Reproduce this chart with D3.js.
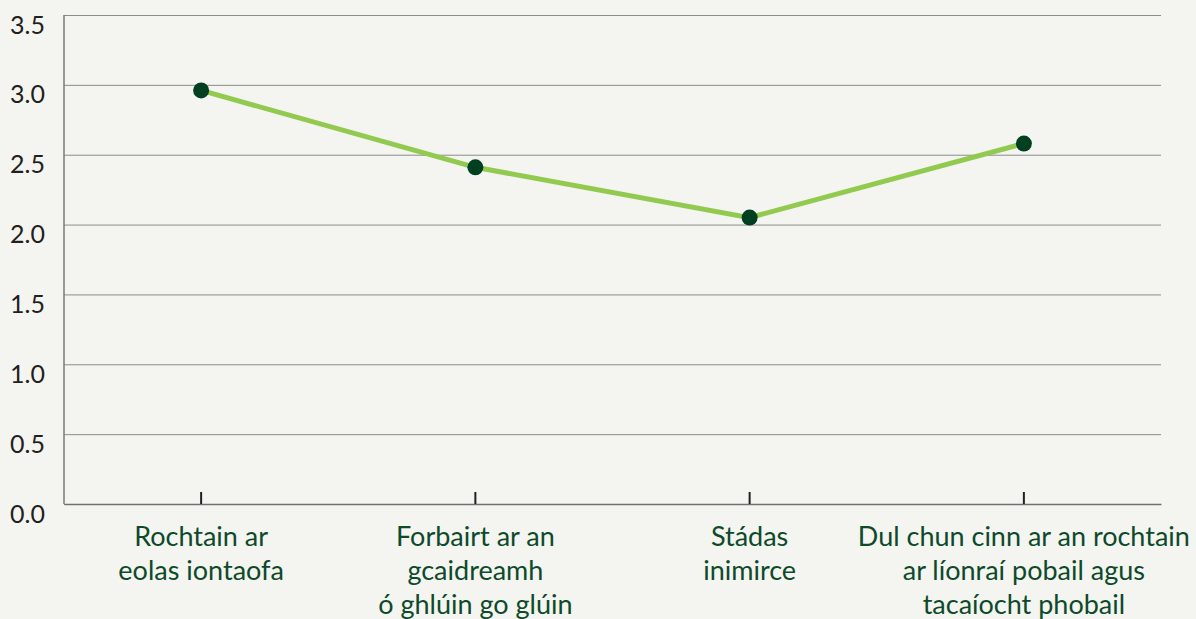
<!DOCTYPE html>
<html>
<head>
<meta charset="utf-8">
<script src="https://cdn.jsdelivr.net/npm/d3@7"></script>
<style>
  body { margin: 0; background: #f4f4f0; }
  svg { display: block; }
</style>
</head>
<body>
<div id="chart"></div>
<script>
// chart data
const categories = [
    ["Rochtain ar", "eolas iontaofa"],
    ["Forbairt ar an", "gcaidreamh", "ó ghlúin go glúin"],
    ["Stádas", "inimirce"],
    ["Dul chun cinn ar an rochtain", "ar líonraí pobail agus", "tacaíocht phobail"]
];
const values = [2.96, 2.41, 2.05, 2.58];
const yTicks = [0, 0.5, 1.0, 1.5, 2.0, 2.5, 3.0, 3.5];

const width = 1196, height = 619;
const margin = { top: 15, right: 35, bottom: 115, left: 64 };
const fontFamily = "Lato, 'Open Sans', sans-serif";

const svg = d3.select("#chart").append("svg")
    .attr("width", width)
    .attr("height", height)
    .style("background", "#f4f4f0")
    .style("font-family", fontFamily);

const x = d3.scaleBand()
    .domain(categories.map((_, i) => i))
    .range([margin.left, width - margin.right]);

const y = d3.scaleLinear()
    .domain([0, 3.5])
    .range([height - margin.bottom, margin.top]);

// gridlines + y labels
const yAxis = svg.append("g")
    .attr("transform", `translate(${margin.left},0)`)
    .call(d3.axisLeft(y)
        .tickValues(yTicks)
        .tickFormat(d3.format(".1f"))
        .tickSize(-(width - margin.left - margin.right))
        .tickPadding(19));
yAxis.attr("font-family", fontFamily);
yAxis.select(".domain").remove();
yAxis.selectAll(".tick line")
    .attr("stroke", "#8c8c8c")
    .attr("stroke-width", 1);
yAxis.selectAll(".tick text")
    .attr("fill", "#231f20")
    .style("font-size", "25px")
    .attr("dy", "0.72em");

// left axis line
svg.append("line")
    .attr("x1", margin.left).attr("x2", margin.left)
    .attr("y1", y(3.5)).attr("y2", y(0))
    .attr("stroke", "#7a7a7a")
    .attr("stroke-width", 1.5);

// bottom axis
const xAxis = svg.append("g")
    .attr("transform", `translate(0,${y(0)})`)
    .call(d3.axisBottom(x).tickSize(0).tickFormat(""));
xAxis.select(".domain")
    .attr("stroke", "#707070")
    .attr("stroke-width", 1.5);

// small tick marks pointing up
svg.append("g")
    .selectAll("line")
    .data(categories)
    .join("line")
    .attr("x1", (d, i) => x(i) + x.bandwidth() / 2)
    .attr("x2", (d, i) => x(i) + x.bandwidth() / 2)
    .attr("y1", y(0) - 12)
    .attr("y2", y(0))
    .attr("stroke", "#231f20")
    .attr("stroke-width", 2);

// category labels
svg.append("g")
    .attr("text-anchor", "middle")
    .selectAll("text")
    .data(categories)
    .join("text")
    .attr("x", (d, i) => x(i) + x.bandwidth() / 2)
    .attr("y", y(0) + 42)
    .attr("fill", "#0d4a2a")
    .style("font-size", "27px")
    .each(function (lines) {
        d3.select(this).selectAll("tspan")
            .data(lines)
            .join("tspan")
            .attr("x", d3.select(this).attr("x"))
            .attr("dy", (d, j) => j === 0 ? 0 : 34)
            .text(d => d);
    });

// line
const line = d3.line()
    .x((d, i) => x(i) + x.bandwidth() / 2)
    .y(d => y(d));

svg.append("path")
    .datum(values)
    .attr("fill", "none")
    .attr("stroke", "#92c94f")
    .attr("stroke-width", 5)
    .attr("d", line);

svg.append("g")
    .selectAll("circle")
    .data(values)
    .join("circle")
    .attr("cx", (d, i) => x(i) + x.bandwidth() / 2)
    .attr("cy", d => y(d))
    .attr("r", 8)
    .attr("fill", "#003f20");
</script>
</body>
</html>
